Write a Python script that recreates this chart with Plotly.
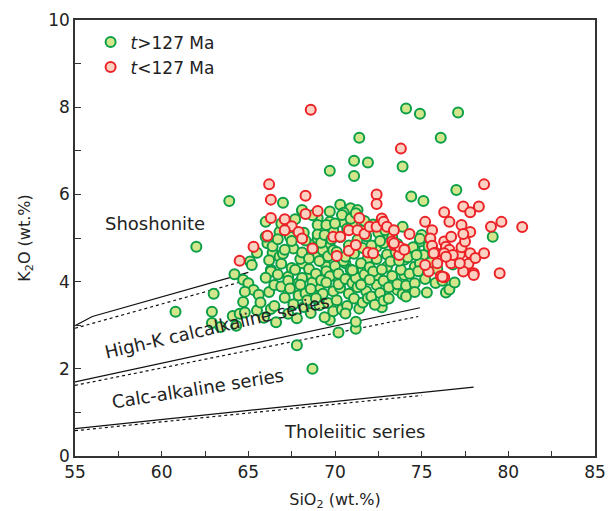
import plotly.graph_objects as go

# ---- Samples older than 127 Ma: SiO2 (wt.%) and K2O (wt.%) ----
old_sio2 = [
    62.0, 63.9, 60.8, 63.0, 62.9, 62.9, 63.4, 64.3, 64.1, 64.5, 64.8, 65.5, 64.2, 64.7, 65.0, 65.3,
    64.8, 64.7, 65.6, 65.1, 65.2,
    67.0, 69.7, 71.1, 71.9, 71.4, 71.1, 73.9, 74.1, 74.9, 77.1, 76.1, 77.0, 74.4, 75.1, 79.1,
    67.8, 68.7, 70.2, 71.2, 71.2, 69.7, 75.3, 76.4, 73.6, 74.2, 72.7,
    68.1, 66.0, 70.3, 70.9, 71.3, 70.5, 69.0, 69.7, 69.9, 69.4, 66.4, 66.3, 66.8, 67.4, 67.6, 68.7,
    69.0, 69.7, 73.9, 74.9, 75.0, 75.1, 74.6, 68.1, 69.0, 69.5, 70.4, 71.0, 71.7, 72.9, 73.1, 72.4,
    72.8, 73.6, 74.0, 74.6, 74.9, 66.3, 66.8, 67.3, 68.1, 68.5, 69.0, 69.5, 70.1, 70.6, 71.0, 71.6,
    71.9, 72.4, 73.0, 73.4, 74.0, 69.1, 67.8,
    65.7, 66.0, 65.5, 65.9, 66.1,
    66.2, 66.3, 66.2, 66.5, 66.0, 66.4,
    66.5, 66.9, 66.7, 67.0, 66.6, 66.9, 66.7,
    67.1, 67.3, 67.5, 67.1, 67.3, 67.4, 67.2, 66.9,
    67.6, 67.9, 67.7, 68.0, 67.5, 67.8, 67.9, 67.7,
    68.2, 68.3, 68.1, 68.5, 68.1, 68.3, 68.4, 68.2, 68.0,
    68.6, 68.9, 68.7, 68.9, 68.5, 68.8, 69.0, 68.6, 68.7,
    69.1, 69.3, 69.2, 69.5, 69.1, 69.3, 69.4, 69.2, 69.4, 68.9,
    69.6, 69.9, 69.7, 70.0, 69.6, 69.8, 69.9, 69.7, 69.5, 69.9,
    70.1, 70.3, 70.2, 70.5, 70.1, 70.3, 70.4, 70.0, 70.2, 70.4,
    70.7, 70.8, 70.6, 70.9, 70.6, 70.8, 71.0, 70.7, 70.6, 70.9,
    71.1, 71.3, 71.2, 71.5, 71.1, 71.3, 71.4, 71.0, 71.2,
    71.6, 71.8, 71.7, 72.0, 71.6, 71.8, 71.9, 71.5, 71.7,
    72.1, 72.4, 72.2, 72.4, 72.1, 72.3, 72.5, 72.0, 72.2,
    72.6, 72.8, 72.7, 73.0, 72.6, 72.8, 72.9,
    73.1, 73.3, 73.2, 73.5, 73.1, 73.3,
    73.6, 73.8, 73.7, 73.9, 73.6,
    74.1, 74.3, 74.2, 74.5, 74.1,
    74.6, 74.8, 74.7, 74.9, 74.6,
    75.2, 75.5, 75.8, 75.4, 75.9,
    76.2, 76.6, 76.8, 76.3, 76.9,
]
old_k2o = [
    4.80, 5.85, 3.31, 3.72, 3.31, 3.05, 2.96, 2.99, 3.21, 3.26, 3.29, 3.34, 4.17, 4.04, 3.96, 3.81,
    3.77, 3.53, 3.70, 4.46, 4.38,
    5.81, 6.54, 6.77, 6.73, 7.30, 6.42, 6.64, 7.97, 7.85, 7.88, 7.30, 6.10, 5.95, 5.85, 5.03,
    2.54, 2.00, 2.83, 2.92, 3.08, 3.12, 3.75, 3.75, 3.81, 3.81, 3.41,
    5.62, 5.37, 5.76, 5.68, 5.64, 5.58, 5.46, 5.37, 5.18, 5.26, 4.66, 4.27, 5.14, 5.03, 4.76, 4.84,
    4.99, 4.80, 5.26, 4.92, 5.07, 4.61, 4.34, 5.64, 5.30, 5.30, 5.37, 5.30, 5.26, 5.22, 5.03, 4.80,
    4.88, 4.57, 4.50, 4.73, 4.42, 4.23, 4.57, 4.11, 4.42, 4.15, 4.57, 4.34, 4.11, 4.42, 4.15, 4.27,
    4.54, 4.08, 4.34, 4.00, 4.15, 3.89, 3.89,
    3.52, 4.09, 4.66, 3.17, 4.88,
    3.76, 3.37, 4.49, 3.92, 5.03, 4.81,
    3.44, 3.89, 4.16, 4.64, 3.07, 5.33, 4.97,
    3.63, 4.02, 4.31, 4.73, 3.26, 3.84, 5.22, 4.41,
    3.48, 3.97, 4.27, 4.52, 4.93, 3.16, 3.68, 5.43,
    3.42, 3.73, 4.08, 4.29, 4.67, 4.94, 3.57, 5.12, 3.93,
    3.28, 3.66, 3.98, 4.18, 4.53, 4.77, 5.08, 3.83, 5.52,
    3.46, 3.72, 4.03, 4.24, 4.47, 4.72, 3.18, 4.89, 5.07, 3.62,
    3.51, 3.78, 4.12, 4.36, 4.58, 4.97, 3.32, 5.61, 3.98, 4.72,
    3.57, 3.86, 4.18, 4.47, 4.68, 5.02, 3.36, 5.33, 3.94, 5.53,
    3.44, 3.72, 4.06, 4.28, 4.57, 4.83, 3.97, 5.21, 3.27, 5.44,
    3.61, 3.87, 4.09, 4.42, 4.64, 4.96, 3.38, 4.26, 5.57,
    3.52, 3.78, 4.16, 4.33, 4.77, 5.04, 3.62, 3.93, 5.39,
    3.66, 3.92, 4.23, 4.52, 4.83, 3.47, 5.12, 4.04, 5.31,
    3.74, 4.02, 4.28, 4.62, 4.93, 3.56, 5.18,
    3.87, 4.13, 4.46, 4.68, 3.61, 5.02,
    3.94, 4.27, 4.48, 3.71, 4.86,
    3.91, 4.18, 4.56, 4.79, 3.66,
    3.96, 4.24, 4.61, 4.98, 3.76,
    4.06, 4.44, 3.97, 4.81, 4.29,
    4.02, 3.82, 4.39, 4.66, 3.98,
]

# ---- Samples younger than 127 Ma ----
young_sio2 = [
    68.6, 73.8, 66.2, 66.3, 68.3, 72.4, 72.4, 69.0, 78.6, 78.3, 79.6, 79.0, 79.5, 80.8,
    76.3, 77.4, 77.8, 76.6, 77.3, 75.2, 75.6, 74.3,
    65.3, 64.5, 66.1, 66.3, 67.1, 67.5, 67.1, 67.9, 68.1, 68.3, 68.7, 70.1, 69.9, 70.3, 70.8, 70.8,
    71.3, 71.2, 71.4, 71.7, 71.9, 72.2, 72.0, 72.4, 72.7, 72.8, 73.0, 73.4, 73.3, 73.4, 73.7, 74.0,
    73.7, 75.5, 75.6, 75.8, 75.4, 75.2, 76.3, 76.7, 76.4, 76.6, 76.3, 76.1, 76.3, 76.7, 77.2, 77.3,
    77.5, 77.8, 77.4, 77.8, 77.7, 77.4, 78.1, 78.6, 76.8, 78.0, 77.2, 75.9, 75.7, 76.4, 78.0, 73.4,
    74.0, 76.2,
]
young_k2o = [
    7.94, 7.05, 6.23, 5.88, 5.97, 6.00, 5.78, 5.62, 6.23, 5.72, 5.37, 5.26, 4.19, 5.25,
    5.59, 5.72, 5.59, 5.37, 5.30, 5.37, 5.18, 5.09,
    4.80, 4.48, 5.05, 5.46, 5.43, 5.27, 5.18, 5.14, 4.99, 5.55, 4.76, 4.59, 5.03, 5.03, 5.18, 4.71,
    5.18, 4.84, 5.46, 5.09, 4.67, 4.65, 5.26, 5.26, 5.45, 5.37, 5.26, 5.18, 4.92, 4.84, 4.61, 4.74,
    4.80, 4.99, 4.82, 4.66, 4.23, 4.38, 4.92, 5.03, 4.80, 4.73, 4.65, 4.13, 4.10, 4.42, 4.63, 4.79,
    4.92, 5.14, 5.09, 4.65, 4.41, 4.23, 4.54, 4.65, 4.61, 4.19, 4.42, 4.42, 4.65, 4.57, 4.15, 4.88,
    4.73, 4.11,
]

# ---- Series boundaries (solid) and alternative boundaries (dotted) ----
shosh_solid_x = [55.0, 56.0, 65.0]
shosh_solid_y = [2.99, 3.20, 4.21]
shosh_dot_x = [55.0, 64.9]
shosh_dot_y = [2.93, 4.03]
highk_solid_x = [55.0, 74.9]
highk_solid_y = [1.70, 3.40]
highk_dot_x = [55.0, 74.8]
highk_dot_y = [1.62, 3.20]
calc_solid_x = [55.0, 78.0]
calc_solid_y = [0.63, 1.58]
calc_dot_x = [55.0, 75.0]
calc_dot_y = [0.58, 1.39]

# ---- Field names: text, position, angle ----
field_text = ["Shoshonite", "High-K calcalkaline series", "Calc-alkaline series", "Tholeiitic series"]
field_x = [59.6, 63.2, 62.1, 71.1]
field_y = [5.34, 2.97, 1.55, 0.57]
field_angle = [0, -13, -9, 0]

FONT = "DejaVu Sans"

fig = go.Figure()

for xs, ys, dash in [
    (shosh_solid_x, shosh_solid_y, "solid"),
    (shosh_dot_x, shosh_dot_y, "3px,3px"),
    (highk_solid_x, highk_solid_y, "solid"),
    (highk_dot_x, highk_dot_y, "3px,3px"),
    (calc_solid_x, calc_solid_y, "solid"),
    (calc_dot_x, calc_dot_y, "3px,3px"),
]:
    fig.add_trace(go.Scatter(
        x=xs, y=ys, mode="lines", showlegend=False, hoverinfo="skip",
        line=dict(color="#111111", width=1.2, dash=dash),
    ))

fig.add_trace(go.Scatter(
    x=old_sio2, y=old_k2o, mode="markers", name="<i>t</i>&gt;127 Ma",
    marker=dict(size=10, color="#d4e68c", line=dict(color="#0b9f48", width=2)),
))
fig.add_trace(go.Scatter(
    x=young_sio2, y=young_k2o, mode="markers", name="<i>t</i>&lt;127 Ma",
    marker=dict(size=10, color="#fbd2c2", line=dict(color="#ec2227", width=2)),
))

for t, x, y, a in zip(field_text, field_x, field_y, field_angle):
    fig.add_annotation(
        x=x, y=y, text=t, textangle=a, showarrow=False,
        font=dict(family=FONT, size=18, color="#222222"),
    )

axis_common = dict(
    showline=True, linecolor="#333333", linewidth=1.5, mirror=True,
    ticks="inside", tickcolor="#333333", tickwidth=1.2,
    showgrid=False, zeroline=False, automargin=False,
    tickfont=dict(family=FONT, size=17, color="#222222"),
)

fig.update_xaxes(
    range=[55, 85], dtick=5, tick0=55, ticklen=5,
    minor=dict(dtick=2.5, ticks="inside", ticklen=5, tickcolor="#333333", tickwidth=1.2),
    title=dict(text="SiO<sub>2</sub> (wt.%)", font=dict(family=FONT, size=16, color="#222222"), standoff=14),
    **axis_common,
)
fig.update_yaxes(
    range=[0, 10], dtick=2, tick0=0, ticklen=6,
    minor=dict(dtick=1, ticks="inside", ticklen=6, tickcolor="#333333", tickwidth=1.2),
    title=dict(text="K<sub>2</sub>O (wt.%)", font=dict(family=FONT, size=16, color="#222222"), standoff=14),
    **axis_common,
)

fig.update_layout(
    width=608, height=511,
    margin=dict(l=75, r=13, t=20, b=55),
    plot_bgcolor="white", paper_bgcolor="white",
    font=dict(family=FONT, color="#222222"),
    legend=dict(
        x=0.03, y=0.99, xanchor="left", yanchor="top",
        font=dict(family=FONT, size=17, color="#222222"),
        bgcolor="rgba(0,0,0,0)",
    ),
)

fig.write_html("out.html")
